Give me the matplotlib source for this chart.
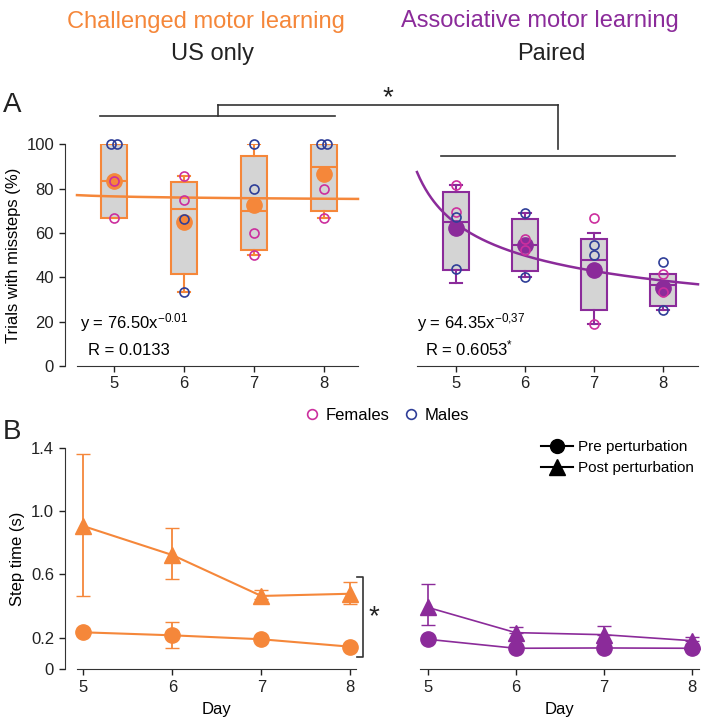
import matplotlib
matplotlib.use("Agg")
from matplotlib import pyplot as plt
from matplotlib.lines import Line2D
import numpy as np

plt.rcParams["font.family"] = ["Liberation Sans", "DejaVu Sans"]
plt.rcParams["mathtext.default"] = "regular"

ORANGE = "#F5873A"
PURPLE = "#8B2B9A"
MAGENTA = "#CC2F9E"
BLUE = "#2F3E98"
BOXGRAY = "#D4D4D4"
DARK = "#333333"

days = [5, 6, 7, 8]

# panel A, challenged (US only)
us_q1 = [66.7, 41.6, 52.1, 70.0]
us_med = [83.3, 70.7, 69.8, 89.8]
us_q3 = [100.0, 83.0, 94.6, 100.0]
us_lo = [66.7, 33.3, 50.0, 66.7]
us_hi = [100.0, 85.5, 100.0, 100.0]
us_mean = [83.3, 65.0, 72.5, 86.5]
us_fem = [[83.3, 66.7], [85.5, 75.0], [60.0, 50.0], [80.0, 66.7]]
us_male = [[100.0, 100.0], [66.5, 33.3], [100.0, 80.0], [100.0, 100.0]]
us_fit = (76.50, -0.01)

# panel A, associative (paired)
pa_q1 = [43.2, 42.9, 25.4, 26.9]
pa_med = [65.0, 54.6, 47.6, 36.6]
pa_q3 = [78.5, 66.1, 57.3, 41.3]
pa_lo = [37.5, 40.2, 19.0, 25.2]
pa_hi = [81.5, 69.2, 59.8, 41.7]
pa_mean = [62.3, 54.8, 43.5, 35.4]
pa_fem = [[81.5, 69.5], [57.3, 52.3], [66.8, 19.0], [41.7, 33.5]]
pa_male = [[67.0, 43.7], [69.2, 40.2], [54.5, 50.0], [46.7, 25.2]]
pa_fit = (64.35, -0.37)

# panel B, step time (s)
us_pre = [0.234, 0.215, 0.190, 0.143]
us_pre_err = [0.0, 0.082, 0.0, 0.0]
us_post = [0.906, 0.723, 0.464, 0.478]
us_post_lo = [0.440, 0.152, 0.020, 0.063]
us_post_hi = [0.456, 0.173, 0.036, 0.072]
pa_pre = [0.190, 0.133, 0.135, 0.133]
pa_post = [0.392, 0.232, 0.219, 0.181]
pa_post_lo = [0.112, 0.0, 0.0, 0.0]
pa_post_hi = [0.146, 0.038, 0.057, 0.023]

fig = plt.figure(figsize=(7.01, 7.28), dpi=100)
W, H = 701, 728


def add_ax(x0, x1, ytop, ybot):
    return fig.add_axes([x0 / W, 1 - ybot / H, (x1 - x0) / W, (ybot - ytop) / H])


def style(ax, left_spine):
    for s in ["top", "right"]:
        ax.spines[s].set_visible(False)
    ax.spines["bottom"].set_color(DARK)
    ax.tick_params(axis="both", labelsize=12, colors="#222222", length=4, width=1)
    ax.set_xticks(days)
    if left_spine:
        ax.spines["left"].set_position(("outward", 9))
        ax.spines["left"].set_color(DARK)
    else:
        ax.spines["left"].set_visible(False)
        ax.set_yticks([])
    ax.set_facecolor("none")


def box_panel(ax, q1, med, q3, lo, hi, mean, fem, male, fit, color):
    stats = [dict(med=m, q1=a, q3=b, whislo=l, whishi=h)
             for m, a, b, l, h in zip(med, q1, q3, lo, hi)]
    ax.bxp(stats, positions=days, widths=0.37, showfliers=False, patch_artist=True,
           boxprops=dict(facecolor=BOXGRAY, edgecolor=color, linewidth=1.5),
           medianprops=dict(color=color, linewidth=1.5),
           whiskerprops=dict(color=color, linewidth=1.5),
           capprops=dict(color=color, linewidth=1.5), capwidths=0.17,
           manage_ticks=False, zorder=2)
    a, b = fit
    xs = np.linspace(ax.get_xlim()[0], ax.get_xlim()[1], 200)
    ax.plot(xs, a * (xs - 4) ** b, color=color, lw=1.8, zorder=3, clip_on=False)
    ax.plot(days, mean, "o", color=color, ms=11, zorder=4, clip_on=False)
    for d, fv, mv in zip(days, fem, male):
        for vals, c in [(fv, MAGENTA), (mv, BLUE)]:
            offs = [-0.045, 0.045] if vals[0] == vals[1] else [0, 0]
            ax.plot([d + o for o in offs], vals, "o", mfc="none", mec=c, mew=1.2,
                    ms=6.5, zorder=5, clip_on=False)
    ax.set_ylim(0, 100)


# ---- panel A ----
axA1 = add_ax(77, 358, 144.3, 366)
axA1.set_xlim(4.47, 8.486)
style(axA1, True)
box_panel(axA1, us_q1, us_med, us_q3, us_lo, us_hi, us_mean, us_fem, us_male, us_fit, ORANGE)
axA1.set_yticks([0, 20, 40, 60, 80, 100])
axA1.set_ylabel("Trials with missteps (%)", fontsize=12, labelpad=4)
axA1.text(0.01, 0.17, "y = %.2fx$^{%.2f}$" % us_fit, transform=axA1.transAxes, fontsize=12)
axA1.text(0.04, 0.05, "R = 0.0133", transform=axA1.transAxes, fontsize=12)

axA2 = add_ax(417, 698, 144.3, 366)
axA2.set_xlim(4.436, 8.51)
style(axA2, False)
box_panel(axA2, pa_q1, pa_med, pa_q3, pa_lo, pa_hi, pa_mean, pa_fem, pa_male, pa_fit, PURPLE)
axA2.text(0.0, 0.17, "y = 64.35x$^{-0{,}37}$", transform=axA2.transAxes, fontsize=12)
axA2.text(0.03, 0.05, "R = 0.6053$^{*}$", transform=axA2.transAxes, fontsize=12)

# ---- panel B ----
axB1 = add_ax(77, 356, 448, 669.3)
axB1.set_xlim(4.929, 8.064)
style(axB1, True)
axB1.errorbar(days, us_pre, yerr=us_pre_err, color=ORANGE, marker="o", ms=11, lw=1.5,
              capsize=5, elinewidth=1.3, clip_on=False)
axB1.errorbar(days, us_post, yerr=[us_post_lo, us_post_hi], color=ORANGE, marker="^", ms=12,
              lw=1.5, capsize=5, elinewidth=1.3, clip_on=False)
axB1.set_ylim(0, 1.4)
axB1.set_yticks([0, 0.2, 0.6, 1.0, 1.4])
axB1.set_yticklabels(["0", "0.2", "0.6", "1.0", "1.4"])
axB1.set_ylabel("Step time (s)", fontsize=12, labelpad=4)
axB1.set_xlabel("Day", fontsize=12, labelpad=5)
axB1.plot([8.08, 8.146, 8.146, 8.08], [0.586, 0.586, 0.08, 0.08], color=DARK, lw=1.2,
          clip_on=False)
axB1.text(8.27, 0.33, "*", fontsize=20, ha="center", va="center", color="#222222")

axB2 = add_ax(420, 699, 448, 669.3)
axB2.set_xlim(4.913, 8.083)
style(axB2, False)
axB2.errorbar(days, pa_pre, color=PURPLE, marker="o", ms=11, lw=1.2, clip_on=False)
axB2.errorbar(days, pa_post, yerr=[pa_post_lo, pa_post_hi], color=PURPLE, marker="^", ms=12,
              lw=1.2, capsize=5, elinewidth=1.2, clip_on=False)
axB2.set_ylim(0, 1.4)
axB2.set_xlabel("Day", fontsize=12, labelpad=5)

# legends
sex_handles = [Line2D([], [], ls="none", marker="o", mfc="none", mec=MAGENTA, mew=1.2, ms=7),
               Line2D([], [], ls="none", marker="o", mfc="none", mec=BLUE, mew=1.2, ms=7)]
fig.legend(sex_handles, ["Females", "Males"], loc="center", ncol=2, frameon=False,
           bbox_to_anchor=(387 / W, 1 - 415 / H), fontsize=12, handlelength=0.8,
           handletextpad=0.4, columnspacing=0.9, borderpad=0)
pp_handles = [Line2D([], [], color="black", marker="o", ms=10, lw=1.5),
              Line2D([], [], color="black", marker="^", ms=11, lw=1.5)]
fig.legend(pp_handles, ["Pre perturbation", "Post perturbation"], loc="upper left",
           frameon=False, bbox_to_anchor=(541 / W, 1 - 440 / H), fontsize=11,
           handlelength=2.1, handletextpad=0.3, labelspacing=0.45, borderpad=0,
           borderaxespad=0)

# significance bracket above panel A
for xs, ys in [([100, 335], [115.7, 115.7]), ([218, 218], [115.7, 105]),
               ([218, 558], [105, 105]), ([558, 558], [105, 149]),
               ([441, 675], [155.7, 155.7])]:
    fig.add_artist(Line2D([x / W for x in xs], [1 - y / H for y in ys], color=DARK, lw=1.2))
fig.text(388 / W, 1 - 98 / H, "*", fontsize=20, ha="center", va="center", color="#222222")

# titles and panel letters
fig.text(206 / W, 1 - 27.7 / H, "Challenged motor learning", color=ORANGE, fontsize=17,
         ha="center", va="baseline")
fig.text(212 / W, 1 - 60 / H, "US only", color="#222222", fontsize=17, ha="center",
         va="baseline")
fig.text(540 / W, 1 - 27.5 / H, "Associative motor learning", color=PURPLE, fontsize=17,
         ha="center", va="baseline")
fig.text(551 / W, 1 - 60 / H, "Paired", color="#222222", fontsize=17, ha="center",
         va="baseline")
fig.text(3 / W, 1 - 105 / H, "A", fontsize=20, ha="left", va="center", color="#222222")
fig.text(3 / W, 1 - 432 / H, "B", fontsize=20, ha="left", va="center", color="#222222")

fig.savefig("out.png", dpi=100)
